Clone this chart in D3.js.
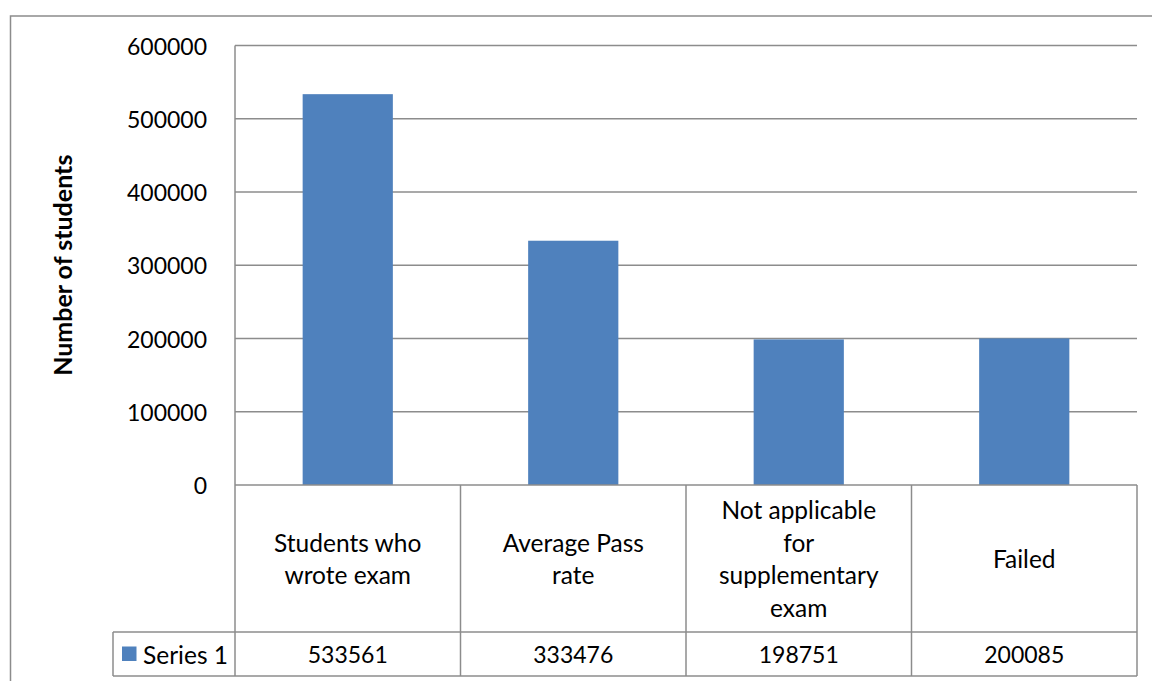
<!DOCTYPE html>
<html>
<head>
<meta charset="utf-8">
<script src="https://cdn.jsdelivr.net/npm/d3@7"></script>
<style>
  html, body { margin: 0; padding: 0; background: #fff; }
  svg { display: block; }
  text { font-family: Lato, "Open Sans", sans-serif; fill: #000; }
</style>
</head>
<body>
<script>
// Exam results, one series
const categories = [
  ["Students who", "wrote exam"],
  ["Average Pass", "rate"],
  ["Not applicable", "for", "supplementary", "exam"],
  ["Failed"]
];
const seriesName = "Series 1";
const seriesValues = [533561, 333476, 198751, 200085];
const yTicks = [0, 100000, 200000, 300000, 400000, 500000, 600000];
const yTitle = "Number of students";

const W = 1152, H = 681;
const plot = { left: 235, right: 1137, top: 45.5, bottom: 485 };
const table = { catBottom: 632, bottom: 676, legendLeft: 113 };
const lineColor = "#8c8c8c";
const barColor = "#4f81bd";
const numSize = "23px", labelSize = "24.5px";

const svg = d3.select("body").append("svg").attr("width", W).attr("height", H);

// outer chart frame
svg.append("rect")
  .attr("x", 10.5).attr("y", 16).attr("width", 1160).attr("height", 700)
  .attr("fill", "none").attr("stroke", lineColor).attr("stroke-width", 1.5);

const x = d3.scaleBand().domain(d3.range(categories.length))
  .range([plot.left, plot.right]).padding(0);
const y = d3.scaleLinear().domain([0, 600000]).range([plot.bottom, plot.top]);

// horizontal gridlines
svg.append("g").selectAll("line").data(yTicks.filter(d => d > 0)).join("line")
  .attr("x1", plot.left).attr("x2", plot.right)
  .attr("y1", d => y(d)).attr("y2", d => y(d))
  .attr("stroke", lineColor).attr("stroke-width", 1.5);

// value axis labels
svg.append("g").selectAll("text").data(yTicks).join("text")
  .attr("x", 207).attr("y", d => y(d))
  .attr("text-anchor", "end").attr("dominant-baseline", "central")
  .style("font-size", numSize)
  .text(d => d3.format("d")(d));

// axis title
svg.append("text")
  .attr("transform", `translate(62, ${(plot.top + plot.bottom) / 2}) rotate(-90)`)
  .attr("text-anchor", "middle").attr("dominant-baseline", "central")
  .style("font-size", "25px").style("font-weight", "bold")
  .text(yTitle);

// bars
const barW = x.bandwidth() * 0.4;
svg.append("g").selectAll("rect").data(seriesValues).join("rect")
  .attr("x", (d, i) => x(i) + (x.bandwidth() - barW) / 2)
  .attr("width", barW)
  .attr("y", d => y(d))
  .attr("height", d => y(0) - y(d))
  .attr("fill", barColor);

// vertical axis line
svg.append("line")
  .attr("x1", plot.left).attr("x2", plot.left)
  .attr("y1", plot.top).attr("y2", plot.bottom)
  .attr("stroke", lineColor).attr("stroke-width", 1.5);

// data table grid
const tg = svg.append("g").attr("stroke", lineColor).attr("stroke-width", 1.5);
tg.append("line").attr("x1", plot.left).attr("x2", plot.right)
  .attr("y1", plot.bottom).attr("y2", plot.bottom);
tg.append("line").attr("x1", table.legendLeft).attr("x2", plot.right)
  .attr("y1", table.catBottom).attr("y2", table.catBottom);
tg.append("line").attr("x1", table.legendLeft).attr("x2", plot.right)
  .attr("y1", table.bottom).attr("y2", table.bottom);
tg.append("line").attr("x1", table.legendLeft).attr("x2", table.legendLeft)
  .attr("y1", table.catBottom).attr("y2", table.bottom);
tg.selectAll("line.div").data(d3.range(categories.length + 1)).join("line")
  .attr("class", "div")
  .attr("x1", i => i < categories.length ? x(i) : plot.right)
  .attr("x2", i => i < categories.length ? x(i) : plot.right)
  .attr("y1", plot.bottom).attr("y2", table.bottom);

// category labels
const lineH = 32.5;
const catMid = (plot.bottom + table.catBottom) / 2;
const cat = svg.append("g").selectAll("text").data(categories).join("text")
  .attr("text-anchor", "middle")
  .style("font-size", labelSize);
cat.each(function (lines, i) {
  const t = d3.select(this);
  const cx = x(i) + x.bandwidth() / 2;
  const y0 = catMid - (lines.length - 1) * lineH / 2;
  lines.forEach((ln, k) => {
    t.append("tspan").attr("x", cx).attr("y", y0 + k * lineH)
      .attr("dominant-baseline", "central").text(ln);
  });
});

// series values row
const rowMid = (table.catBottom + table.bottom) / 2;
svg.append("g").selectAll("text").data(seriesValues).join("text")
  .attr("x", (d, i) => x(i) + x.bandwidth() / 2).attr("y", rowMid)
  .attr("text-anchor", "middle").attr("dominant-baseline", "central")
  .style("font-size", numSize)
  .text(d => d);

// legend key in the table
svg.append("rect").attr("x", 122).attr("y", rowMid - 7.5)
  .attr("width", 14.5).attr("height", 14.5).attr("fill", barColor);
svg.append("text").attr("x", 143).attr("y", rowMid)
  .attr("dominant-baseline", "central").style("font-size", labelSize)
  .text(seriesName);
</script>
</body>
</html>
